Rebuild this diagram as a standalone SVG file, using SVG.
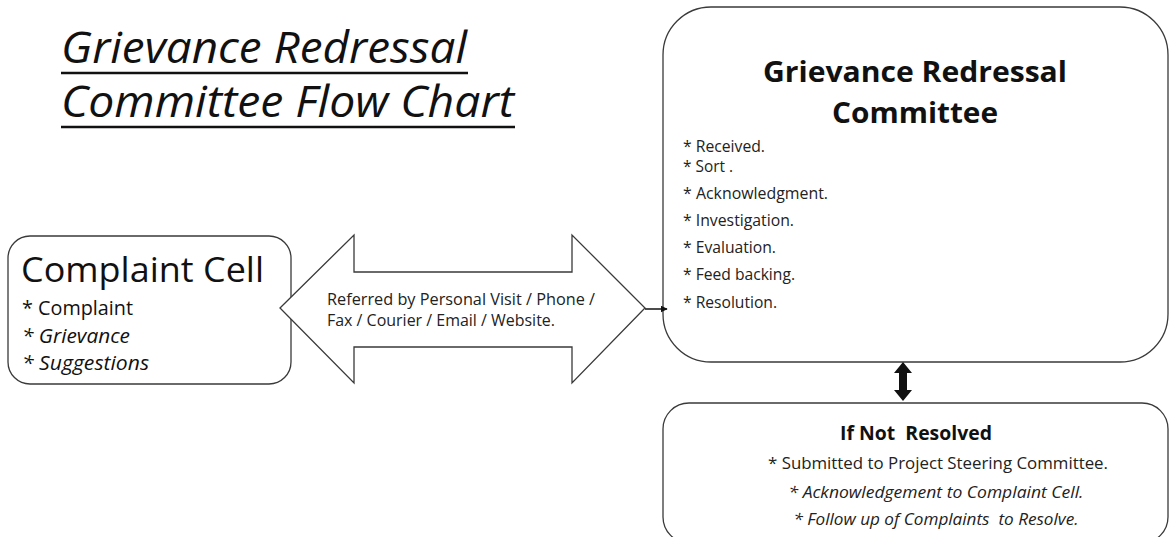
<svg xmlns="http://www.w3.org/2000/svg" width="1170" height="537" viewBox="0 0 1170 537">
<style>
.box{fill:#fff;stroke:#3a3a3a;stroke-width:1.3}
.t{font-family:"Open Sans","Liberation Sans",sans-serif;fill:#111}
.title{font-size:43px;font-style:italic}
.hd{font-size:28px;font-weight:bold}
.b{font-size:16px;fill:#222}
.cb{font-size:20px;fill:#111}
.it{font-style:italic}
.lb{font-size:15.5px;fill:#222}
.ul{stroke:#111;stroke-width:2.5}
</style>
<defs>
<marker id="ah" viewBox="0 0 10 10" refX="9" refY="5" markerWidth="7" markerHeight="7" markerUnits="userSpaceOnUse" orient="auto"><path d="M0,0 L10,5 L0,10 z" fill="#111"/></marker>
</defs>
<rect width="1170" height="537" fill="#fff"/>
<g id="title">
<text class="t title" x="61" y="63" textLength="406" lengthAdjust="spacingAndGlyphs">Grievance Redressal</text>
<line class="ul" x1="61" y1="73" x2="468" y2="73"/>
<text class="t title" x="61" y="117" textLength="453" lengthAdjust="spacingAndGlyphs">Committee Flow Chart</text>
<line class="ul" x1="61" y1="127" x2="515" y2="127"/>
</g>
<g id="complaint-cell">
<rect class="box" x="8" y="236" width="283" height="148" rx="22"/>
<text class="t" x="21" y="282" font-size="34" textLength="243" lengthAdjust="spacingAndGlyphs">Complaint Cell</text>
<text class="t cb" x="22" y="315" textLength="111" lengthAdjust="spacingAndGlyphs">* Complaint</text>
<text class="t cb it" x="22" y="343" textLength="108" lengthAdjust="spacingAndGlyphs">* Grievance</text>
<text class="t cb it" x="22" y="370" textLength="127" lengthAdjust="spacingAndGlyphs">* Suggestions</text>
</g>
<g id="referral">
<polygon class="box" points="280,308 354,235 354,272 572,272 572,235 645,308 572,383 572,347 354,347 354,383"/>
<text class="t lb" x="327" y="305" textLength="268" lengthAdjust="spacingAndGlyphs">Referred by Personal Visit / Phone /</text>
<text class="t lb" x="327" y="326" textLength="228" lengthAdjust="spacingAndGlyphs">Fax / Courier / Email / Website.</text>
</g>
<g id="committee">
<rect class="box" x="663" y="7" width="505" height="355" rx="48"/>
<text class="t hd" x="915" y="82" text-anchor="middle" textLength="304" lengthAdjust="spacingAndGlyphs">Grievance Redressal</text>
<text class="t hd" x="915" y="123" text-anchor="middle" textLength="166" lengthAdjust="spacingAndGlyphs">Committee</text>
<text class="t b" x="683" y="152" textLength="82" lengthAdjust="spacingAndGlyphs">* Received.</text>
<text class="t b" x="683" y="172" textLength="50" lengthAdjust="spacingAndGlyphs">* Sort .</text>
<text class="t b" x="683" y="199" textLength="145" lengthAdjust="spacingAndGlyphs">* Acknowledgment.</text>
<text class="t b" x="683" y="226" textLength="111" lengthAdjust="spacingAndGlyphs">* Investigation.</text>
<text class="t b" x="683" y="253" textLength="93" lengthAdjust="spacingAndGlyphs">* Evaluation.</text>
<text class="t b" x="683" y="280" textLength="112" lengthAdjust="spacingAndGlyphs">* Feed backing.</text>
<text class="t b" x="683" y="308" textLength="94" lengthAdjust="spacingAndGlyphs">* Resolution.</text>
</g>
<g id="not-resolved">
<rect class="box" x="663" y="403" width="505" height="140" rx="26"/>
<text class="t" x="916" y="440" font-size="19" font-weight="bold" text-anchor="middle" xml:space="preserve" textLength="152" lengthAdjust="spacingAndGlyphs">If Not  Resolved</text>
<text class="t b" x="938" y="469" text-anchor="middle" textLength="340" lengthAdjust="spacingAndGlyphs">* Submitted to Project Steering Committee.</text>
<text class="t b it" x="936" y="498" text-anchor="middle" textLength="295" lengthAdjust="spacingAndGlyphs">* Acknowledgement to Complaint Cell.</text>
<text class="t b it" x="936" y="525" text-anchor="middle" xml:space="preserve" textLength="285" lengthAdjust="spacingAndGlyphs">* Follow up of Complaints  to Resolve.</text>
</g>
<g id="connectors">
<line x1="645" y1="309" x2="667" y2="309" stroke="#111" stroke-width="1.5" marker-end="url(#ah)"/>
<polygon fill="#111" points="903,362 912,373 907,373 907,390 912,390 903,401 894,390 899,390 899,373 894,373"/>
</g>
</svg>
